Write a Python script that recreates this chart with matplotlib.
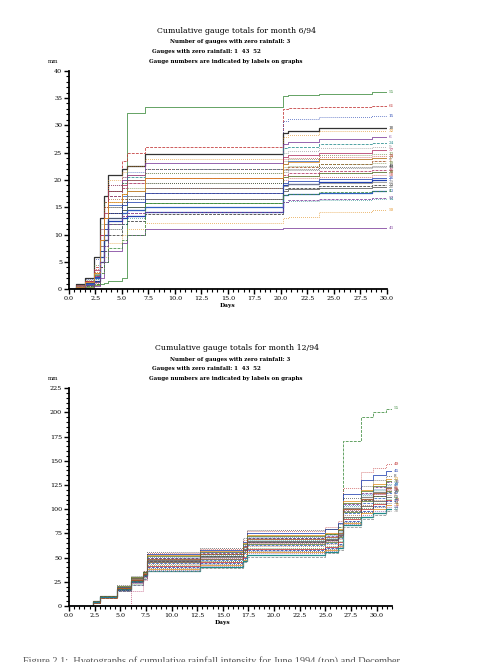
import matplotlib
matplotlib.use('Agg')
import matplotlib.pyplot as plt
from matplotlib.ticker import MultipleLocator, FormatStrFormatter

# June 1994 - cumulative totals (mm) at the break days
jun_days = [0, 0.7, 1.5, 2.4, 2.9, 3.3, 3.7, 5.0, 5.5, 7.2, 20.2, 20.7, 23.6, 28.6, 30.0]
jun_labels = ['55', '61', '15', '18', '32', '6', '24', '9', '37', '12', '27', '3', '44', '20',
              '58', '7', '33', '50', '41', '14', '29', '46', '10', '53', '36', '21', '4', '39',
              '26', '48', '17', '57']
jun_totals = [
    [0, 0.2, 0.4, 0.8, 1.0, 1.2, 1.5, 2.0, 32.2, 33.3, 35.3, 35.6, 35.8, 36.1, 36.1],
    [0, 0.5, 1.5, 4.0, 10, 16, 21, 23.5, 25.0, 26.0, 33.0, 33.2, 33.4, 33.6, 33.6],
    [0, 0.6, 1.8, 5.5, 11, 15, 19, 20.5, 21.5, 22.1, 30.8, 31.2, 31.5, 31.7, 31.7],
    [0, 1.0, 2.0, 6.0, 13, 17, 21, 22.0, 22.5, 24.7, 28.6, 28.9, 29.5, 29.5, 29.5],
    [0, 0.8, 1.6, 3.0, 9, 15, 20, 21.5, 22.5, 23.9, 27.8, 28.2, 28.9, 28.9, 28.9],
    [0, 0.4, 1.0, 2.5, 8, 13, 18, 20.0, 21.0, 23.1, 26.5, 27.0, 27.5, 27.8, 27.8],
    [0, 0.3, 0.9, 2.0, 7, 12, 17, 19.5, 20.5, 22.1, 25.8, 26.0, 26.5, 26.8, 26.8],
    [0, 0.5, 1.3, 1.8, 6, 11, 16, 18.5, 19.5, 21.2, 25.0, 25.3, 25.8, 26.1, 26.1],
    [0, 0.7, 1.5, 3.5, 10, 14, 18, 19.0, 20.0, 20.3, 24.2, 24.5, 25.0, 25.5, 25.5],
    [0, 0.2, 0.8, 1.5, 5, 10, 15, 17.5, 18.5, 19.4, 23.5, 23.8, 24.5, 24.7, 24.7],
    [0, 0.4, 1.2, 2.2, 7, 12, 15.5, 17.0, 18.0, 18.5, 23.0, 23.4, 23.8, 24.0, 24.0],
    [0, 0.6, 1.4, 3.0, 8, 11, 14, 16.5, 17.0, 17.6, 22.0, 22.4, 23.0, 23.4, 23.4],
    [0, 0.3, 1.0, 2.0, 6, 10, 13, 15.5, 16.5, 16.6, 21.5, 21.8, 22.2, 22.4, 22.4],
    [0, 0.5, 1.1, 2.6, 7, 9, 12, 14.5, 15.0, 15.7, 20.5, 20.8, 21.2, 21.5, 21.5],
    [0, 0.2, 0.6, 1.2, 4, 8, 11, 13.5, 14.0, 15.1, 20.0, 20.3, 20.6, 20.9, 20.9],
    [0, 0.4, 0.9, 1.5, 5, 9, 12.5, 13.0, 13.5, 14.2, 19.0, 19.3, 19.7, 20.0, 20.0],
    [0, 0.3, 0.8, 1.0, 4, 7, 10, 12.0, 12.5, 13.8, 18.3, 18.6, 18.9, 19.1, 19.1],
    [0, 0.2, 0.5, 0.8, 3, 6, 8.5, 10.0, 11.0, 12.2, 13.0, 13.3, 14.2, 14.5, 14.5],
    [0, 0.1, 0.3, 0.6, 2, 5, 7, 8.5, 10.0, 11.1, 11.2, 11.2, 11.3, 11.3, 11.3],
    [0, 0.5, 1.0, 1.8, 5, 8, 11, 12.0, 13.0, 14.2, 16.0, 16.2, 16.4, 16.6, 16.6],
    [0, 0.6, 1.3, 2.8, 8, 12, 15, 16.0, 17.0, 18.5, 18.9, 19.2, 19.5, 19.6, 19.6],
    [0, 0.4, 1.0, 2.4, 9, 13, 17, 18.5, 19.5, 20.3, 21.0, 21.3, 21.6, 21.8, 21.8],
    [0, 0.8, 1.7, 4.5, 12, 16, 18, 19.5, 20.0, 21.2, 22.4, 22.6, 22.9, 23.1, 23.1],
    [0, 0.3, 0.9, 2.0, 6, 10, 13, 14.0, 14.5, 15.1, 17.2, 17.4, 17.7, 17.9, 17.9],
    [0, 0.5, 1.2, 3.2, 9, 13, 16.5, 17.5, 18.0, 18.5, 20.5, 20.8, 21.2, 21.5, 21.5],
    [0, 0.2, 0.7, 1.4, 5, 9, 13, 14.5, 15.0, 16.6, 18.0, 18.3, 18.5, 18.7, 18.7],
    [0, 0.3, 0.6, 1.0, 3, 5, 7.5, 9.0, 10.0, 15.7, 17.2, 17.5, 17.8, 18.0, 18.0],
    [0, 0.6, 1.5, 3.8, 11, 15, 19, 20.5, 21.0, 22.1, 23.8, 24.0, 24.3, 24.4, 24.4],
    [0, 0.4, 1.1, 2.3, 7, 11, 14, 15.5, 16.0, 17.6, 19.5, 19.8, 20.2, 20.4, 20.4],
    [0, 0.2, 0.6, 1.6, 6, 10, 14, 16.0, 16.5, 19.4, 21.8, 22.0, 22.3, 22.5, 22.5],
    [0, 0.5, 1.3, 2.9, 9, 13, 16, 17.5, 18.0, 20.3, 23.0, 23.3, 23.8, 24.0, 24.0],
    [0, 0.3, 0.8, 1.3, 5, 8, 12, 13.5, 14.0, 14.2, 16.0, 16.3, 16.5, 16.7, 16.7],
]

# December 1994
dec_days = [0, 2.3, 3.0, 4.7, 6.0, 7.2, 7.6, 12.8, 17.0, 17.4, 25.0, 26.2, 26.7, 28.5, 29.6, 30.9, 31.5]
dec_labels = ['55', '49', '45', '8', '23', '11', '30', '2', '35', '19', '42', '5', '60', '28',
              '13', '47', '34', '16', '54', '22', '38', '59', '31', '40', '51', '25']
dec_totals = [
    [0, 4, 9, 19, 27, 33, 50, 54, 62, 70, 74, 82, 170, 195, 200, 204, 205],
    [0, 5, 10, 21, 30, 36, 55, 59, 68, 77, 82, 88, 122, 138, 143, 147, 147],
    [0, 4, 9, 20, 28, 35, 54, 58, 66, 75, 80, 86, 116, 130, 135, 139, 139],
    [0, 5, 10, 22, 31, 36, 56, 60, 70, 79, 80, 85, 112, 124, 130, 134, 134],
    [0, 4, 9, 20, 29, 34, 53, 57, 65, 73, 75, 80, 108, 120, 126, 131, 131],
    [0, 3, 8, 18, 26, 32, 50, 55, 62, 70, 72, 78, 105, 117, 123, 128, 128],
    [0, 4, 9, 19, 27, 33, 49, 53, 60, 68, 70, 76, 103, 115, 120, 126, 126],
    [0, 5, 10, 17, 25, 31, 47, 51, 58, 66, 68, 74, 101, 113, 118, 123, 123],
    [0, 3, 8, 16, 24, 30, 46, 50, 57, 65, 67, 72, 99, 110, 116, 121, 121],
    [0, 4, 9, 18, 26, 32, 45, 49, 56, 64, 66, 71, 97, 108, 114, 119, 119],
    [0, 3, 8, 17, 25, 31, 44, 48, 55, 63, 65, 70, 96, 106, 112, 117, 117],
    [0, 4, 9, 19, 28, 34, 43, 47, 54, 62, 64, 69, 94, 104, 110, 115, 115],
    [0, 5, 10, 20, 29, 35, 48, 52, 59, 67, 69, 73, 92, 103, 108, 113, 113],
    [0, 3, 8, 16, 23, 29, 42, 46, 52, 60, 62, 67, 91, 101, 106, 111, 111],
    [0, 4, 9, 18, 27, 33, 41, 45, 51, 59, 61, 66, 90, 100, 105, 110, 110],
    [0, 3, 8, 15, 22, 28, 40, 44, 50, 58, 60, 64, 88, 98, 103, 108, 108],
    [0, 4, 9, 17, 25, 31, 39, 43, 49, 57, 59, 63, 87, 97, 102, 106, 106],
    [0, 5, 10, 19, 28, 34, 38, 42, 48, 56, 58, 62, 86, 96, 100, 104, 104],
    [0, 3, 8, 16, 24, 30, 37, 41, 47, 55, 57, 61, 85, 94, 98, 102, 102],
    [0, 4, 9, 18, 26, 32, 36, 40, 46, 53, 56, 60, 84, 92, 96, 100, 100],
    [0, 3, 8, 15, 22, 28, 36, 39, 45, 51, 55, 58, 82, 90, 94, 98, 98],
    [0, 0, 0, 0, 16, 27, 45, 49, 57, 66, 68, 73, 100, 111, 116, 120, 120],
    [0, 5, 10, 21, 30, 35, 52, 56, 64, 72, 74, 79, 106, 119, 124, 129, 129],
    [0, 4, 9, 20, 28, 34, 51, 56, 63, 71, 73, 77, 104, 116, 121, 125, 125],
    [0, 3, 8, 19, 27, 33, 49, 54, 61, 69, 71, 75, 100, 111, 117, 122, 122],
    [0, 5, 10, 18, 26, 32, 47, 52, 58, 66, 68, 72, 98, 109, 114, 118, 118],
]

colors = ['#3a8a3a', '#c03030', '#2040b0', '#333333', '#e09020', '#7a3a9a',
          '#208a8a', '#8a8a8a', '#b03060', '#5a7a2a', '#3060c0', '#a05020', '#555555']
styles = ['-', '--', ':', '-', ':']

SERIF = 'DejaVu Serif'


def draw_panel(ax, days, totals, labels, xmax, ymax, ymajor, yminor, style_shift=0):
    for i, vals in enumerate(totals):
        c = colors[i % len(colors)]
        ls = styles[(i + style_shift) % len(styles)]
        lw = 0.9 if ls == '-' and i % 4 == 3 else 0.55
        ax.plot(days, vals, drawstyle='steps-post', color=c, linestyle=ls, linewidth=lw)
        ax.text(days[-1] + 0.2, vals[-1], labels[i], color=c, fontsize=3.0,
                family=SERIF, va='center', ha='left', clip_on=False)
    ax.set_xlim(0, xmax)
    ax.set_ylim(0, ymax)
    ax.xaxis.set_major_locator(MultipleLocator(2.5))
    ax.xaxis.set_minor_locator(MultipleLocator(0.5))
    ax.xaxis.set_major_formatter(FormatStrFormatter('%.1f'))
    ax.yaxis.set_major_locator(MultipleLocator(ymajor))
    ax.yaxis.set_minor_locator(MultipleLocator(yminor))
    for s in ['top', 'right']:
        ax.spines[s].set_visible(False)
    for s in ['left', 'bottom']:
        ax.spines[s].set_linewidth(1.3)
    ax.tick_params(which='major', direction='out', length=3.5, width=1.0, labelsize=4.6, pad=1.5)
    ax.tick_params(which='minor', direction='out', length=2, width=0.8)
    for lab in ax.get_xticklabels() + ax.get_yticklabels():
        lab.set_family(SERIF)
    ax.text(15, -0.075 * ymax, 'Days', ha='center', va='center', fontsize=4.2,
            family=SERIF, fontweight='bold')


def header(fig, ytop, month):
    W, H = 485.0, 662.0
    fig.text(237 / W, 1 - ytop / H, 'Cumulative gauge totals for month ' + month,
             ha='center', va='center', fontsize=5.6, family=SERIF)
    fig.text(230 / W, 1 - (ytop + 11) / H, 'Number of gauges with zero rainfall: 3',
             ha='center', va='center', fontsize=4.0, family=SERIF, fontweight='bold')
    fig.text(152 / W, 1 - (ytop + 20.5) / H, 'Gauges with zero rainfall: 1  43  52',
             ha='left', va='center', fontsize=4.0, family=SERIF, fontweight='bold')
    fig.text(149 / W, 1 - (ytop + 30.5) / H, 'Gauge numbers are indicated by labels on graphs',
             ha='left', va='center', fontsize=4.0, family=SERIF, fontweight='bold')
    fig.text(48 / W, 1 - (ytop + 30.5) / H, 'mm', ha='left', va='center',
             fontsize=4.0, family=SERIF)


fig = plt.figure(figsize=(4.85, 6.62), dpi=100)

ax1 = fig.add_axes([69 / 485, 1 - 289.3 / 662, (386.7 - 69) / 485, (289.3 - 70.7) / 662])
draw_panel(ax1, jun_days, jun_totals, jun_labels, 30, 40, 5, 1)
header(fig, 31, '6/94')

ax2 = fig.add_axes([69 / 485, 1 - 606 / 662, (392 - 69) / 485, (606 - 388.2) / 662])
draw_panel(ax2, dec_days, dec_totals, dec_labels, 31.5, 225, 25, 5, style_shift=1)
header(fig, 348, '12/94')

fig.text(23 / 485, -0.002,
         'Figure 2.1:  Hyetographs of cumulative rainfall intensity for June 1994 (top) and December',
         ha='left', va='baseline', fontsize=7.4, family='Liberation Serif', color='#555555')

fig.savefig('out.png', dpi=100)
